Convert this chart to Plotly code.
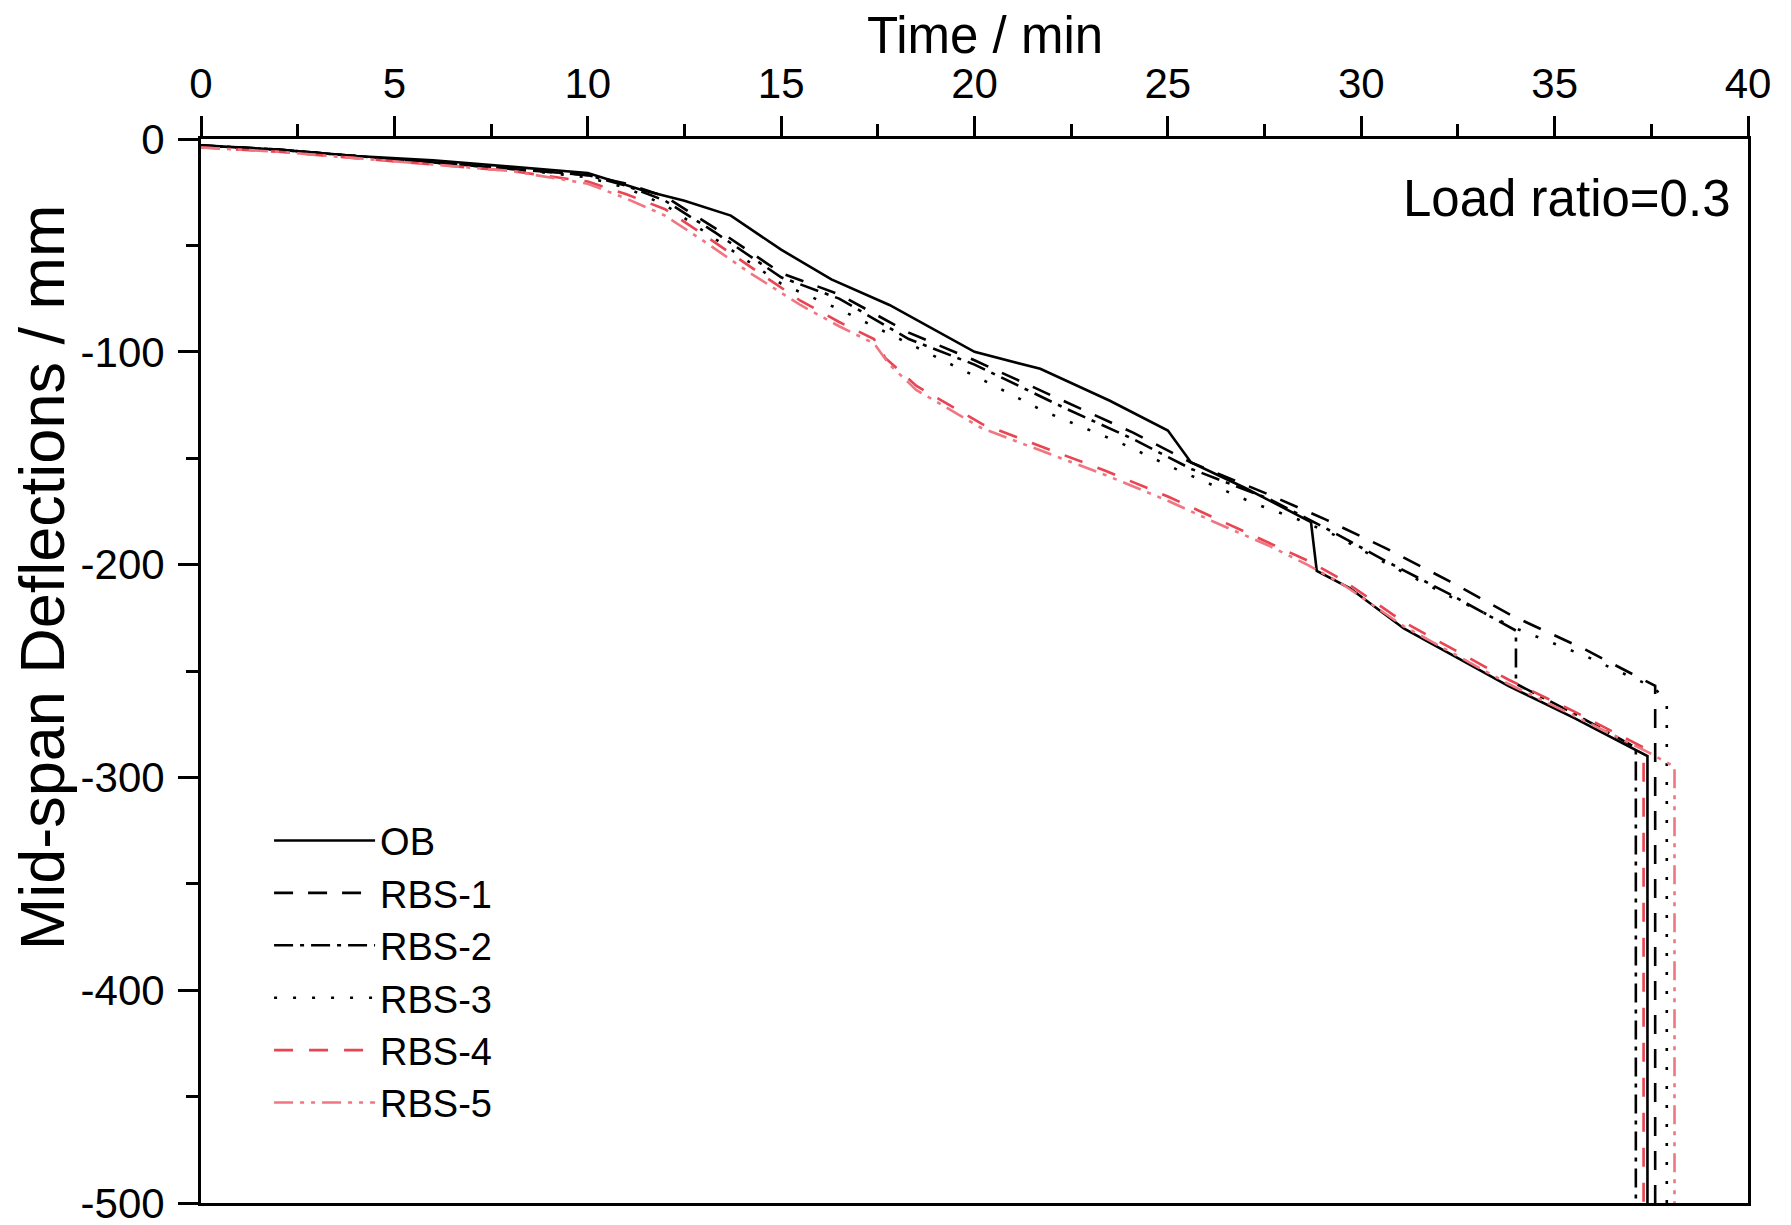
import plotly.graph_objects as go

# ---- data ----
t_ob = [0, 2, 4, 6, 8, 10, 11.4, 12.5, 13.7, 15.0, 16.3, 17.8, 20.0, 21.7, 23.5, 25.0, 25.6, 27.0, 28.7, 28.85, 29.7, 31.1, 32.5, 33.8, 35.5, 37.4, 37.4]
d_ob = [-3, -5, -8, -10, -13, -16, -24, -29, -36, -52, -66, -78, -100, -108, -123, -137, -152, -164, -180, -203, -211, -230, -244, -257, -272, -290, -500]

t_rbs1 = [0, 2, 4, 6, 8, 10, 11, 12, 13.3, 15, 16.5, 18.3, 20, 22.4, 24.1, 25.6, 27.6, 29.1, 30.6, 32.3, 33.9, 35.8, 37.6, 37.6]
d_rbs1 = [-3, -5, -8, -11, -14, -17, -21, -27, -42, -63, -73, -91, -104, -124, -138, -152, -167, -179, -192, -208, -224, -240, -257, -500]

t_rbs2 = [0, 2, 4, 6, 8, 10, 11, 12, 13.3, 15, 16.5, 18.3, 20, 22.4, 24.1, 25.6, 27.6, 29.3, 30.6, 32.3, 34.0, 34.0, 35.5, 37.1, 37.1]
d_rbs2 = [-3, -5, -8, -11, -14, -17, -22, -29, -44, -65, -75, -94, -106, -127, -141, -155, -169, -185, -198, -214, -231, -256, -270, -286, -500]

t_rbs3 = [0, 2, 4, 6, 8, 10, 11, 12, 13.3, 15, 16.5, 18.4, 20.3, 21.8, 23.8, 25.2, 27.2, 28.4, 29.3, 30.6, 32.3, 34.0, 35.8, 37.6, 37.9, 37.9]
d_rbs3 = [-3, -5, -8, -11, -14, -18, -23, -31, -47, -68, -80, -97, -114, -128, -143, -155, -171, -179, -186, -199, -215, -230, -243, -258, -266, -500]

t_rbs4 = [0, 2, 4, 6, 8, 10, 11, 12, 13, 14.2, 15.5, 16.5, 17.4, 17.7, 18.5, 20.2, 21.8, 23.4, 25, 26.2, 27.6, 28.6, 29.5, 31.1, 32.5, 33.8, 35.5, 37.3, 37.3]
d_rbs4 = [-4, -6, -9, -12, -15, -20, -26, -33, -45, -60, -76, -86, -94, -103, -116, -134, -145, -156, -168, -178, -190, -198, -207, -227, -241, -254, -269, -286, -500]

t_rbs5 = [0, 2, 4, 6, 8, 10, 11, 12, 13, 14.2, 15.5, 16.5, 17.4, 17.8, 18.5, 20.2, 21.8, 23.4, 25, 26.2, 27.6, 28.6, 29.5, 31.1, 32.5, 33.8, 35.5, 37.4, 38.1, 38.1]
d_rbs5 = [-4, -6, -9, -12, -15, -21, -28, -36, -48, -63, -78, -88, -96, -106, -118, -136, -147, -158, -170, -180, -191, -200, -209, -229, -243, -256, -271, -288, -295, -500]

x_ticks = [0, 5, 10, 15, 20, 25, 30, 35, 40]
x_ticktext = ["0", "5", "10", "15", "20", "25", "30", "35", "40"]
y_ticks = [0, -100, -200, -300, -400, -500]
y_ticktext = ["0", "-100", "-200", "-300", "-400", "-500"]

FONT = "Arial, Liberation Sans, sans-serif"
RED1 = "rgb(232,68,82)"
RED2 = "rgb(240,118,130)"

series = [
    ("OB", t_ob, d_ob, "black", "solid"),
    ("RBS-1", t_rbs1, d_rbs1, "black", "19px,15px"),
    ("RBS-2", t_rbs2, d_rbs2, "black", "19px,7px,4px,7px"),
    ("RBS-3", t_rbs3, d_rbs3, "black", "3px,16px"),
    ("RBS-4", t_rbs4, d_rbs4, RED1, "19px,16px"),
    ("RBS-5", t_rbs5, d_rbs5, RED2, "19px,7px,4px,7px,4px,7px"),
]

fig = go.Figure()
for name, t, d, col, dash in series:
    fig.add_trace(go.Scatter(x=t, y=d, mode="lines", name=name,
                             line=dict(color=col, width=2.6, dash=dash)))

fig.update_layout(
    width=1791, height=1225,
    paper_bgcolor="white", plot_bgcolor="white",
    margin=dict(l=193, r=51, t=131, b=30, autoexpand=False),
    font=dict(family=FONT, color="black", size=40),
    showlegend=True,
    legend=dict(x=0.044, y=0.370, xanchor="left", yanchor="top",
                bgcolor="rgba(0,0,0,0)", font=dict(size=38, family=FONT),
                itemwidth=101, tracegroupgap=0),
    annotations=[
        dict(text="Load ratio=0.3", x=0.99, y=0.944, xref="paper", yref="paper",
             xanchor="right", yanchor="middle", showarrow=False,
             font=dict(size=51, family=FONT)),
        dict(text="Time / min", x=0.507, y=1.0975, xref="paper", yref="paper",
             xanchor="center", yanchor="middle", showarrow=False,
             font=dict(size=51, family=FONT)),
        dict(text="Mid-span Deflections / mm", x=-0.1028, y=0.588, xref="paper", yref="paper",
             xanchor="center", yanchor="middle", showarrow=False, textangle=-90,
             font=dict(size=63, family=FONT)),
    ],
)

fig.update_xaxes(
    side="top", range=[0, 40], tickvals=x_ticks, ticktext=x_ticktext,
    ticks="outside", ticklen=20, tickwidth=2.5, tickcolor="black",
    ticklabelstandoff=1, automargin=False,
    minor=dict(dtick=2.5, ticks="outside", ticklen=12, tickwidth=2.5, tickcolor="black"),
    showline=True, linewidth=3, linecolor="black", mirror=True,
    showgrid=False, zeroline=False,
    tickfont=dict(size=42, family=FONT),
)
fig.update_yaxes(
    range=[-500, 0], tickvals=y_ticks, ticktext=y_ticktext,
    ticks="outside", ticklen=20, tickwidth=2.5, tickcolor="black",
    ticklabelstandoff=5, ticklabeloverflow="allow", automargin=False,
    minor=dict(dtick=50, ticks="outside", ticklen=12, tickwidth=2.5, tickcolor="black"),
    showline=True, linewidth=3, linecolor="black", mirror=True,
    showgrid=False, zeroline=False,
    tickfont=dict(size=42, family=FONT),
)

fig.write_html("out.html")
